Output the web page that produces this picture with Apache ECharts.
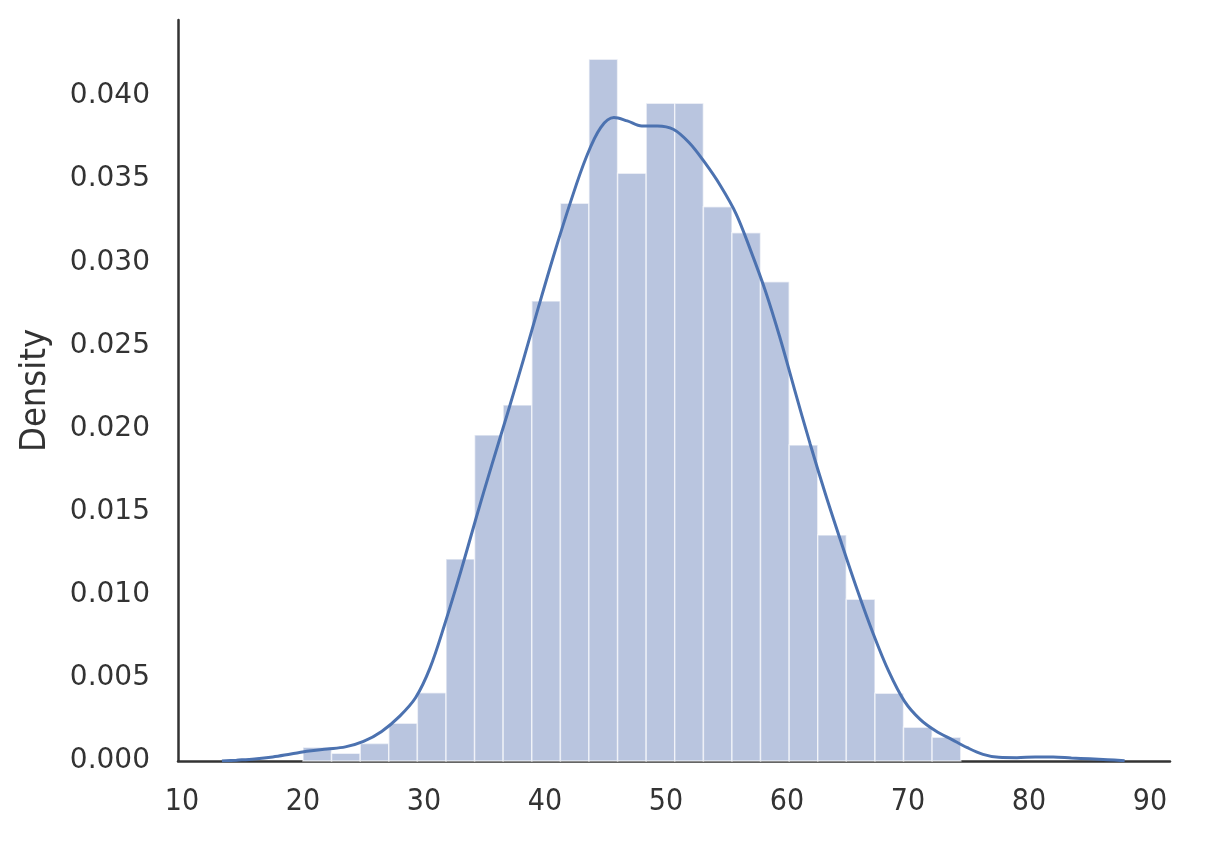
<!DOCTYPE html>
<html>
<head>
<meta charset="utf-8">
<script src="https://cdn.jsdelivr.net/npm/echarts@6/dist/echarts.min.js"></script>
<style>
  html, body { margin: 0; padding: 0; background: #fff; }
  #chart { width: 1208px; height: 850px; }
</style>
</head>
<body>
<div id="chart"></div>
<script>
// histogram bin edges (24 edges -> 23 bins)
const binEdges = [20.0, 22.36, 24.73, 27.09, 29.45, 31.82, 34.18, 36.54, 38.91, 41.27, 43.63, 46.0,
                  48.36, 50.72, 53.09, 55.45, 57.81, 60.18, 62.54, 64.9, 67.27, 69.63, 71.99, 74.36];
// density of each bin
const binDensity = [0.00082, 0.00046, 0.00106, 0.00227, 0.00411, 0.01215, 0.01961, 0.02141, 0.02767,
                    0.03355, 0.04221, 0.03535, 0.03956, 0.03956, 0.03334, 0.03178, 0.02883, 0.01901,
                    0.01359, 0.00973, 0.00407, 0.00203, 0.00143];
// kde curve
const kdeX = [13.3, 14.5, 16, 17.5, 19, 20.5, 22, 23.5, 25, 26.5, 28, 29.3, 30.5, 31.7, 33, 34.3, 35.6,
              36.9, 38.2, 39.5, 40.8, 42.1, 43.4, 44.6, 45.7, 46.8, 48, 49.3, 50.6, 51.9, 53.2, 54.5,
              55.8, 57.0, 58.2, 59.4, 60.6, 61.9, 63.2, 64.5, 65.8, 67.1, 68.4, 69.7, 71.0, 72.3, 73.6,
              74.9, 76.2, 77.5, 79, 80.5, 82, 83.5, 85, 86.5, 87.9];
const kdeY = [0.0, 0.00005, 0.00012, 0.00024, 0.00042, 0.0006, 0.00072, 0.00085, 0.00118, 0.00178,
              0.0027, 0.0038, 0.0056, 0.0082, 0.0113, 0.0146, 0.0178, 0.0209, 0.0241, 0.0274, 0.0306,
              0.0336, 0.0363, 0.0381, 0.0387, 0.0385, 0.0382, 0.0382, 0.0380, 0.0372, 0.0360, 0.0346,
              0.0329, 0.0307, 0.0283, 0.0255, 0.0224, 0.0191, 0.0160, 0.0131, 0.0103, 0.0077, 0.0054,
              0.0036, 0.0025, 0.0018, 0.0013, 0.0008, 0.0004, 0.00022, 0.0002, 0.00024, 0.00024,
              0.00018, 0.00013, 0.00008, 0.00002];
const xTicks = [10, 20, 30, 40, 50, 60, 70, 80, 90];

let chart = echarts.init(document.getElementById('chart'));

let bars = binDensity.map((d, i) => [binEdges[i], binEdges[i + 1], d]);
let kde = kdeX.map((x, i) => [x, kdeY[i]]);

let option = {
    backgroundColor: '#fff',
    animation: false,
    grid: { left: 178, right: 38, top: 20, bottom: 89 },
    xAxis: {
        type: 'value',
        min: 9.67,
        max: 91.65,
        splitLine: { show: false },
        axisTick: { show: false },
        axisLine: { lineStyle: { color: '#333', width: 2.5 } },
        axisLabel: {
            color: '#333',
            fontFamily: "'DejaVu Sans Condensed', 'DejaVu Sans'",
            fontSize: 30,
            margin: 26,
            customValues: xTicks
        }
    },
    yAxis: {
        type: 'value',
        min: 0,
        max: 0.04457,
        interval: 0.005,
        name: 'Density',
        nameLocation: 'middle',
        nameGap: 124,
        nameTextStyle: {
            color: '#333',
            fontFamily: "'DejaVu Sans Condensed', 'DejaVu Sans'",
            fontSize: 36
        },
        splitLine: { show: false },
        axisTick: { show: false },
        axisLine: { show: true, lineStyle: { color: '#333', width: 2.5 } },
        axisLabel: {
            color: '#333',
            fontFamily: 'DejaVu Sans',
            fontSize: 28,
            margin: 28,
            showMaxLabel: false,
            formatter: v => v.toFixed(3)
        }
    },
    series: [
        {
            type: 'custom',
            data: bars,
            encode: { x: [0, 1], y: 2 },
            z: 1,
            renderItem: function (params, api) {
                let p0 = api.coord([api.value(0), api.value(2)]);
                let p1 = api.coord([api.value(1), 0]);
                return {
                    type: 'rect',
                    shape: { x: p0[0], y: p0[1], width: p1[0] - p0[0], height: p1[1] - p0[1] },
                    style: { fill: '#b9c5df', stroke: 'rgba(255,255,255,0.6)', lineWidth: 1.5 }
                };
            }
        },
        {
            type: 'line',
            data: kde,
            smooth: 0.35,
            showSymbol: false,
            z: 3,
            lineStyle: { color: '#4c72b0', width: 3 }
        }
    ]
};
chart.setOption(option);
</script>
</body>
</html>
